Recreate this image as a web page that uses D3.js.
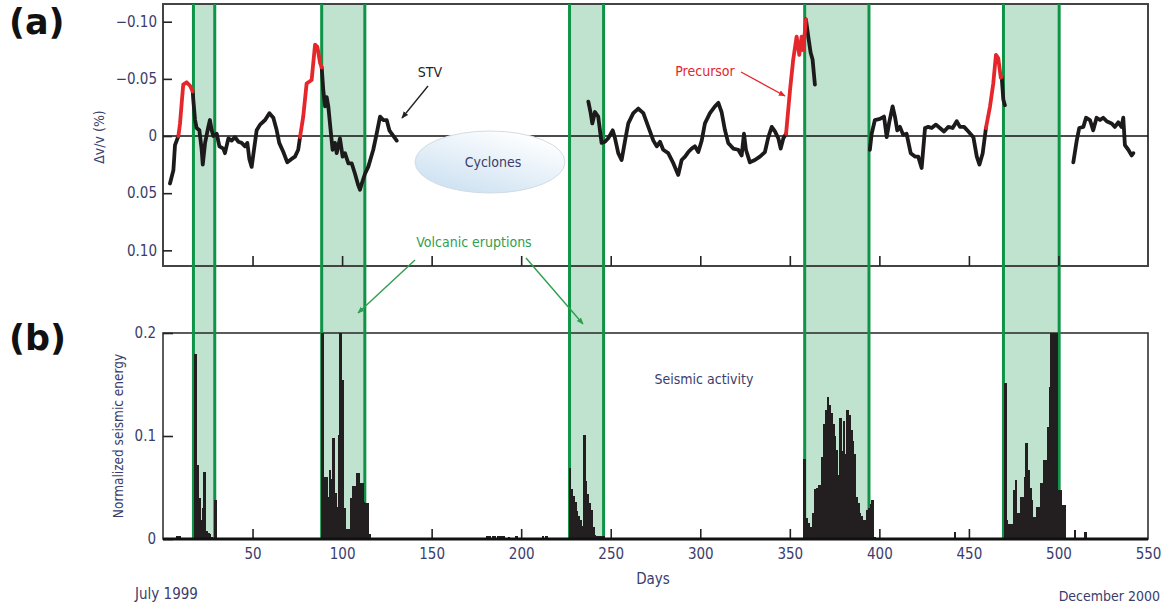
<!DOCTYPE html>
<html><head><meta charset="utf-8">
<script src="https://cdn.jsdelivr.net/npm/d3@7/dist/d3.min.js"></script>
<style>
body{margin:0;background:#fff;}
svg{display:block;}
.narrow{font-family:"Liberation Sans Narrow","DejaVu Sans Condensed","Liberation Sans",sans-serif;}
</style></head>
<body>
<svg id="chart" width="1169" height="610"></svg>
<script>
// ---------------- DATA ----------------
const eruptionStart = [17, 88.6, 227, 358.3, 469.3];
const eruptionEnd   = [28.9, 112.7, 246, 394.2, 500.4];

const precursorStart = [8.6, 76.5, 347.9, 459.5];
const precursorEnd   = [16.6, 88.6, 359.0, 468.3];

// STV (dv/v in %), null = data gap
const stvDays = [
 3.9,5.8,6.7,8.6,9.5,11.3,13.2,15.1,16.6,16.9,17.9,18.8,20.3,21.6,22.2,23.5,25.3,26.2,27.2,28.1,30.0,31.5,33.7,34.6,36.5,38.3,40.2,42.1,43.9,45.8,47.1,48.2,49.5,50.8,52.3,54.2,57.0,59.4,61.6,63.5,64.9,67.2,69.4,71.8,73.7,75.5,76.5,78.3,80.2,83.0,84.9,86.2,87.7,88.6,89.5,90.5,91.4,92.3,93.6,94.7,96.0,97.0,98.8,100.3,101.6,103.5,105.4,107.2,109.0,110.0,110.9,112.8,114.6,117.4,119.3,121.2,123.0,124.9,126.4,127.7,130.5,
 180,
 237.5,238.8,239.7,241.2,243.0,244.9,246.8,248.6,251.1,252.4,254.2,256.1,258.0,259.8,262.6,265.4,268.2,271.0,273.8,275.7,277.5,279.3,282.1,285.0,287.7,289.6,291.5,293.3,295.2,297.0,298.9,300.8,302.6,305.4,308.2,310.1,311.9,313.8,315.6,318.4,321.2,323.1,324.4,325.5,327.7,330.5,333.3,336.1,338.0,339.9,341.7,343.6,344.9,346.4,347.9,350.1,351.9,353.8,355.3,356.6,357.5,359.0,360.3,361.6,362.7,364.0,
 380,
 394.7,395.7,397.5,400.3,402.6,404.1,405.5,407.4,408.7,410.0,411.5,413.3,415.2,417.5,419.9,421.7,423.6,425.5,427.3,429.2,431.6,433.8,436.1,438.5,440.9,443.2,445.0,447.3,449.7,452.5,454.4,455.9,457.7,459.5,461.8,463.6,465.1,466.4,467.8,468.3,469.2,470.1,
 490,
 508.3,510.2,511.6,513.9,515.4,517.6,519.4,521.3,523.2,525.0,526.9,529.7,531.5,533.4,535.2,536.2,537.1,539.0,540.9,541.8
];
const stvValues = [
 0.0415,0.030,0.008,0.000,-0.011,-0.045,-0.047,-0.044,-0.039,-0.032,-0.014,-0.007,-0.005,0.012,0.025,0.006,-0.008,-0.014,-0.005,0.000,-0.002,0.009,0.011,0.015,0.002,0.004,0.001,0.005,0.006,0.009,0.006,0.020,0.027,0.012,-0.005,-0.010,-0.014,-0.020,-0.016,-0.005,0.006,0.014,0.023,0.020,0.018,0.012,0.001,-0.017,-0.046,-0.049,-0.080,-0.078,-0.064,-0.060,-0.040,-0.026,-0.034,-0.026,-0.005,0.012,0.006,0.015,0.002,0.018,0.015,0.024,0.024,0.033,0.043,0.047,0.042,0.033,0.027,0.012,-0.002,-0.017,-0.014,-0.014,-0.005,-0.002,0.004,
 null,
 -0.030,-0.020,-0.011,-0.021,-0.017,0.006,0.005,0.002,-0.005,0.002,0.015,0.021,0.004,-0.011,-0.020,-0.024,-0.020,-0.008,0.004,0.009,0.005,0.012,0.015,0.024,0.034,0.021,0.018,0.014,0.011,0.009,0.014,0.004,-0.011,-0.020,-0.026,-0.029,-0.021,-0.005,0.006,0.011,0.012,0.017,-0.002,0.012,0.023,0.021,0.018,0.014,0.001,-0.008,-0.004,0.002,0.011,0.002,-0.002,-0.040,-0.067,-0.087,-0.071,-0.087,-0.075,-0.102,-0.087,-0.073,-0.067,-0.045,
 null,
 0.012,-0.002,-0.014,-0.015,-0.017,0.001,-0.012,-0.026,-0.017,-0.005,-0.008,-0.001,-0.002,0.015,0.018,0.018,0.028,-0.007,-0.008,-0.007,-0.010,-0.007,-0.004,-0.008,-0.007,-0.013,-0.008,-0.008,-0.004,0.001,0.018,0.025,0.015,-0.007,-0.026,-0.046,-0.071,-0.068,-0.051,-0.052,-0.032,-0.027,
 null,
 0.023,0.004,-0.007,-0.008,-0.016,-0.014,-0.005,-0.016,-0.014,-0.016,-0.013,-0.011,-0.008,-0.012,-0.008,-0.016,0.008,0.012,0.017,0.015
];

// Normalized seismic energy (daily)
const seismicDays = [
 8,9,
 18,19,20,21,22,23,24,25,26,27,28,29,
 89,90,91,92,93,94,95,96,97,98,99,100,101,102,103,104,105,106,107,108,109,110,111,112,113,114,115,
 155,181,182,184,185,187,188,189,190,193,197,212,214,
 227,228,229,230,231,232,233,234,235,236,237,238,239,240,241,242,243,244,245,246,
 358,359,360,361,362,363,364,365,366,367,368,369,370,371,372,373,374,375,376,377,378,379,380,381,382,383,384,385,386,387,388,389,390,391,392,393,394,395,396,397,
 442,
 470,471,472,473,474,475,476,477,478,479,480,481,482,483,484,485,486,487,488,489,490,491,492,493,494,495,496,497,498,499,500,501,502,503,
 509,515
];
const seismicValues = [
 0.003,0.003,
 0.180,0.072,0.040,0.018,0.030,0.065,0.008,0.006,0.005,0.002,0.001,0.038,
 0.200,0.060,0.060,0.041,0.067,0.058,0.098,0.045,0.031,0.101,0.200,0.154,0.030,0.010,0.010,0.010,0.040,0.051,0.051,0.064,0.064,0.054,0.054,0.036,0.035,0.035,0.005,
 0.001,0.003,0.003,0.003,0.003,0.003,0.003,0.003,0.003,0.002,0.003,0.003,0.003,
 0.069,0.049,0.042,0.036,0.027,0.022,0.018,0.013,0.101,0.056,0.044,0.035,0.028,0.012,0.004,0.003,0.003,0.003,0.003,0.003,
 0.078,0.020,0.016,0.012,0.012,0.025,0.049,0.050,0.052,0.052,0.080,0.112,0.125,0.138,0.130,0.122,0.112,0.100,0.086,0.062,0.117,0.085,0.115,0.083,0.125,0.120,0.106,0.095,0.083,0.041,0.035,0.025,0.022,0.018,0.018,0.028,0.030,0.034,0.038,0.002,
 0.007,
 0.151,0.018,0.015,0.015,0.015,0.048,0.057,0.025,0.025,0.041,0.041,0.060,0.093,0.067,0.050,0.038,0.021,0.021,0.031,0.031,0.054,0.054,0.077,0.077,0.109,0.148,0.200,0.200,0.200,0.200,0.048,0.048,0.033,0.033,
 0.009,0.007
];

const dayTicks = [50,100,150,200,250,300,350,400,450,500,550];
const stvTicks = [-0.10,-0.05,0,0.05,0.10];
const stvTickLabels = ["\u22120.10","\u22120.05","0","0.05","0.10"];
const energyTicks = [0,0.1,0.2];
const energyTickLabels = ["0","0.1","0.2"];

// ---------------- DRAW ----------------
const svg = d3.select("#chart");
const textCol = "#3a3d6c";
const green = "#0f9447";
const bandFill = "#bfe3cf";

const x = d3.scaleLinear().domain([0,550]).range([163,1148]);
const yTop = d3.scaleLinear().domain([-0.1155,0.1137]).range([4,266]);
const yBot = d3.scaleLinear().domain([0,0.2]).range([539,333]);

const defs = svg.append("defs");
defs.append("clipPath").attr("id","clipTop").append("rect")
  .attr("x",163).attr("y",4).attr("width",985).attr("height",262);
defs.append("clipPath").attr("id","clipBot").append("rect")
  .attr("x",163).attr("y",333).attr("width",985).attr("height",206);
const grad = defs.append("linearGradient").attr("id","cyc")
  .attr("x1","0%").attr("y1","100%").attr("x2","70%").attr("y2","0%");
grad.append("stop").attr("offset","0%").attr("stop-color","#c6ddf0");
grad.append("stop").attr("offset","100%").attr("stop-color","#ffffff");
function marker(id,col){
  defs.append("marker").attr("id",id).attr("viewBox","0 0 10 10")
   .attr("refX",9).attr("refY",5).attr("markerWidth",7).attr("markerHeight",7)
   .attr("orient","auto-start-reverse").attr("markerUnits","userSpaceOnUse")
   .append("path").attr("d","M0,1 L10,5 L0,9 Z").attr("fill",col);
}
marker("arrK","#222");
marker("arrR","#e5262b");
marker("arrG","#2f9e4f");

const eruptions = eruptionStart.map((s,i)=>({s, e:eruptionEnd[i]}));

// bands fill
svg.append("g").selectAll("rect").data(eruptions).join("rect")
  .attr("x",d=>x(d.s)).attr("width",d=>x(d.e)-x(d.s))
  .attr("y",4).attr("height",535).attr("fill",bandFill);

// frames
svg.append("rect").attr("x",163).attr("y",4).attr("width",985).attr("height",262)
  .attr("fill","none").attr("stroke","#444").attr("stroke-width",2);
svg.append("rect").attr("x",163).attr("y",333).attr("width",985).attr("height",206)
  .attr("fill","none").attr("stroke","#333").attr("stroke-width",1.6);
// zero line
svg.append("line").attr("x1",163).attr("x2",1148).attr("y1",yTop(0)).attr("y2",yTop(0))
  .attr("stroke","#111").attr("stroke-width",1.5);

// ellipse "Cyclones"
svg.append("ellipse").attr("cx",490).attr("cy",162).attr("rx",75).attr("ry",31)
  .attr("fill","url(#cyc)").attr("stroke","#d3dce4").attr("stroke-width",1);
svg.append("text").attr("class","narrow").attr("x",493).attr("y",167).attr("text-anchor","middle")
  .attr("font-size",14).attr("fill",textCol).text("Cyclones");

// band edges
const edges = [];
eruptions.forEach(d=>{edges.push(d.s); edges.push(d.e);});
svg.append("g").selectAll("line").data(edges).join("line")
  .attr("x1",d=>x(d)).attr("x2",d=>x(d)).attr("y1",4).attr("y2",539)
  .attr("stroke",green).attr("stroke-width",3);

// axes top
const axTopX = d3.axisBottom(x).tickValues(dayTicks.filter(d=>d<550)).tickSize(-10).tickFormat("");
const gTopX = svg.append("g").attr("transform","translate(0,266)").call(axTopX);
const axTopY = d3.axisLeft(yTop).tickValues(stvTicks).tickSize(-9).tickPadding(6)
  .tickFormat((d,i)=>stvTickLabels[i]);
const gTopY = svg.append("g").attr("transform","translate(163,0)").call(axTopY);

// axes bottom
const axBotX = d3.axisBottom(x).tickValues(dayTicks).tickSize(-10).tickPadding(9);
const gBotX = svg.append("g").attr("transform","translate(0,539)").call(axBotX);
const axBotY = d3.axisLeft(yBot).tickValues(energyTicks).tickSize(-10).tickPadding(7)
  .tickFormat((d,i)=>energyTickLabels[i]);
const gBotY = svg.append("g").attr("transform","translate(163,0)").call(axBotY);

[gTopX,gTopY,gBotX,gBotY].forEach(g=>{
  g.select(".domain").remove();
  g.selectAll(".tick line").attr("stroke","#222").attr("stroke-width",1.6);
  g.selectAll(".tick text").attr("class","narrow").attr("font-size",15).attr("fill",textCol);
});
gBotX.select(".tick:last-child line").remove();

// seismic bars
const seismic = seismicDays.map((d,i)=>({d, v:seismicValues[i]}));
const bw = x(1)-x(0);
svg.append("g").attr("clip-path","url(#clipBot)").attr("shape-rendering","crispEdges")
  .selectAll("rect").data(seismic).join("rect")
  .attr("x",d=>x(d.d-0.5)).attr("width",bw+0.9)
  .attr("y",d=>yBot(d.v)).attr("height",d=>yBot(0)-yBot(d.v))
  .attr("fill","#231f20");
// bottom axis line
svg.append("line").attr("x1",163).attr("x2",1148).attr("y1",539).attr("y2",539)
  .attr("stroke","#111").attr("stroke-width",3);

// STV curve
const stv = stvDays.map((d,i)=>({d, v:stvValues[i]}));
const inPre = (d,strict)=>precursorStart.some((s,i)=> strict ? (d>s && d<precursorEnd[i]) : (d>=s && d<=precursorEnd[i]));
const lineBlack = d3.line().defined(p=>p.v!==null && !inPre(p.d,true)).x(p=>x(p.d)).y(p=>yTop(p.v));
const lineRed = d3.line().defined(p=>p.v!==null && inPre(p.d,false)).x(p=>x(p.d)).y(p=>yTop(p.v));
const gl = svg.append("g").attr("clip-path","url(#clipTop)");
gl.append("path").attr("d",lineBlack(stv)).attr("fill","none").attr("stroke","#1c1a1b")
  .attr("stroke-width",3.8).attr("stroke-linejoin","round").attr("stroke-linecap","round");
gl.append("path").attr("d",lineRed(stv)).attr("fill","none").attr("stroke","#e5262b")
  .attr("stroke-width",3.8).attr("stroke-linejoin","round").attr("stroke-linecap","round");

// annotations
svg.append("text").attr("class","narrow").attr("x",430).attr("y",77).attr("text-anchor","middle")
  .attr("font-size",14).attr("fill","#222").text("STV");
svg.append("line").attr("x1",428).attr("y1",86).attr("x2",402).attr("y2",118)
  .attr("stroke","#222").attr("stroke-width",1.4).attr("marker-end","url(#arrK)");

svg.append("text").attr("class","narrow").attr("x",705).attr("y",76).attr("text-anchor","middle")
  .attr("font-size",14).attr("fill","#e5262b").text("Precursor");
svg.append("line").attr("x1",741).attr("y1",72).attr("x2",785).attr("y2",96)
  .attr("stroke","#e5262b").attr("stroke-width",1.4).attr("marker-end","url(#arrR)");

svg.append("text").attr("class","narrow").attr("x",474).attr("y",247).attr("text-anchor","middle")
  .attr("font-size",14).attr("fill","#2f9e4f").text("Volcanic eruptions");
svg.append("line").attr("x1",415).attr("y1",260).attr("x2",358).attr("y2",313)
  .attr("stroke","#2f9e4f").attr("stroke-width",1.4).attr("marker-end","url(#arrG)");
svg.append("line").attr("x1",526).attr("y1",258).attr("x2",583).attr("y2",324)
  .attr("stroke","#2f9e4f").attr("stroke-width",1.4).attr("marker-end","url(#arrG)");

svg.append("text").attr("class","narrow").attr("x",704).attr("y",384).attr("text-anchor","middle")
  .attr("font-size",14).attr("fill",textCol).text("Seismic activity");

// axis titles
svg.append("text").attr("class","narrow").attr("transform","translate(104,137) rotate(-90)")
  .attr("text-anchor","middle").attr("font-size",14).attr("fill",textCol).text("\u0394v/v (%)");
svg.append("text").attr("class","narrow").attr("transform","translate(123,436) rotate(-90)")
  .attr("text-anchor","middle").attr("font-size",13.5).attr("fill",textCol).text("Normalized seismic energy");
svg.append("text").attr("class","narrow").attr("x",653).attr("y",584).attr("text-anchor","middle")
  .attr("font-size",15).attr("fill",textCol).text("Days");
svg.append("text").attr("class","narrow").attr("x",135).attr("y",599)
  .attr("font-size",15).attr("fill",textCol).text("July 1999");
svg.append("text").attr("class","narrow").attr("x",1160).attr("y",601).attr("text-anchor","end")
  .attr("font-size",14).attr("fill",textCol).text("December 2000");

// panel letters
svg.append("text").attr("x",9).attr("y",34).attr("font-family","DejaVu Sans")
  .attr("font-weight","bold").attr("font-size",35).attr("fill","#111").text("(a)");
svg.append("text").attr("x",9).attr("y",350).attr("font-family","DejaVu Sans")
  .attr("font-weight","bold").attr("font-size",35).attr("fill","#111").text("(b)");
</script>
</body></html>
